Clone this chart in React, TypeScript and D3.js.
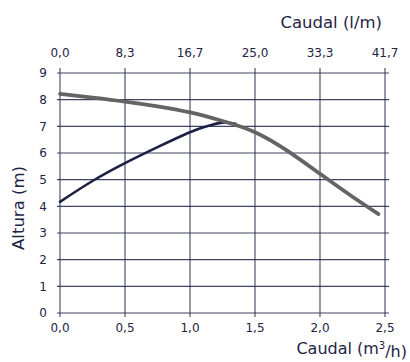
import React from "react";
import * as d3 from "d3";

const bottomTicks = [0, 0.5, 1.0, 1.5, 2.0, 2.5];
const topTickLabels = ["0,0", "8,3", "16,7", "25,0", "33,3", "41,7"];
const yTicks = [0, 1, 2, 3, 4, 5, 6, 7, 8, 9];

const grayCurveX = [0, 0.25, 0.5, 0.75, 1.0, 1.25, 1.5, 1.75, 2.0, 2.25, 2.45];
const grayCurveY = [8.22, 8.08, 7.93, 7.75, 7.52, 7.2, 6.78, 6.08, 5.22, 4.36, 3.71];

const navyCurveX = [0, 0.25, 0.5, 0.75, 1.0, 1.15, 1.25, 1.35];
const navyCurveY = [4.17, 4.95, 5.62, 6.22, 6.78, 7.03, 7.14, 7.1];

const W = 410;
const H = 362;
const TEXT = "#1e2444";
const GRID = "#2a3050";
const FONT = "'DejaVu Sans', Verdana, sans-serif";

export default function App() {
  const x = d3.scaleLinear().domain([0, 2.5]).range([60, 385]);
  const y = d3.scaleLinear().domain([0, 9]).range([313, 73]);
  const line = d3
    .line<[number, number]>()
    .x((d) => x(d[0]))
    .y((d) => y(d[1]))
    .curve(d3.curveNatural);
  const gray = grayCurveX.map((v, i) => [v, grayCurveY[i]] as [number, number]);
  const navy = navyCurveX.map((v, i) => [v, navyCurveY[i]] as [number, number]);
  const fmt = (v: number) => v.toFixed(1).replace(".", ",");

  return (
    <svg
      width={W}
      height={H}
      style={{ position: "absolute", left: 0, top: 0, background: "#fff" }}
      fontFamily={FONT}
    >
      {yTicks.map((t) => (
        <line
          key={"h" + t}
          x1={57}
          x2={389}
          y1={y(t)}
          y2={y(t)}
          stroke={GRID}
          strokeWidth={1.1}
          opacity={0.9}
        />
      ))}
      {bottomTicks.map((t) => (
        <line
          key={"v" + t}
          x1={x(t)}
          x2={x(t)}
          y1={68}
          y2={317}
          stroke={GRID}
          strokeWidth={1.1}
          opacity={0.9}
        />
      ))}
      <path d={line(navy) || ""} fill="none" stroke="#1c2145" strokeWidth={2.6} strokeLinecap="round" />
      <path d={line(gray) || ""} fill="none" stroke="#646464" strokeWidth={3.8} strokeLinecap="round" />
      {yTicks.map((t) => (
        <text key={"yl" + t} x={47} y={y(t)} dy="0.35em" textAnchor="end" fontSize={12} fill={TEXT}>
          {t}
        </text>
      ))}
      {bottomTicks.map((t) => (
        <text key={"bl" + t} x={x(t)} y={328} dy="0.35em" textAnchor="middle" fontSize={12} fill={TEXT}>
          {fmt(t)}
        </text>
      ))}
      {bottomTicks.map((t, i) => (
        <text key={"tl" + t} x={x(t)} y={53} dy="0.35em" textAnchor="middle" fontSize={12} fill={TEXT}>
          {topTickLabels[i]}
        </text>
      ))}
      <text x={382} y={22} dy="0.35em" textAnchor="end" fontSize={16.5} fill={TEXT}>
        Caudal (l/m)
      </text>
      <text x={407} y={348} dy="0.35em" textAnchor="end" fontSize={16} fill={TEXT}>
        Caudal (m<tspan fontSize={10} dy="-0.5em">3</tspan>
        <tspan dy="0.5em">/h)</tspan>
      </text>
      <text
        transform={`translate(18,208) rotate(-90)`}
        dy="0.35em"
        textAnchor="middle"
        fontSize={16.5}
        fill={TEXT}
      >
        Altura (m)
      </text>
    </svg>
  );
}
